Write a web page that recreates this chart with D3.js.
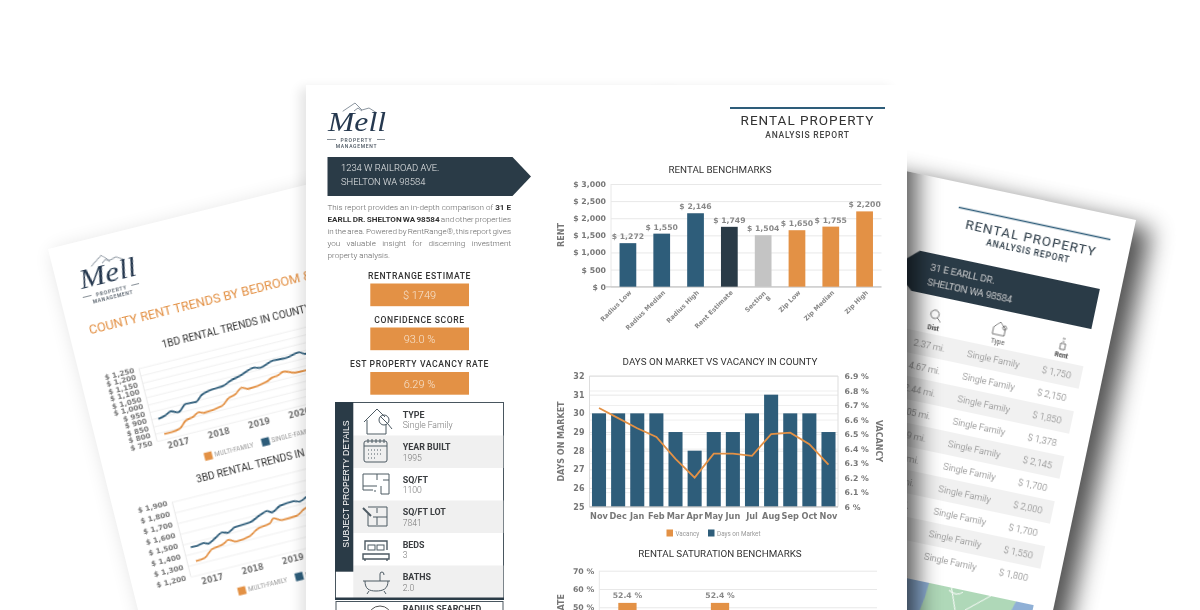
<!DOCTYPE html>
<html><head><meta charset="utf-8">
<script src="https://cdn.jsdelivr.net/npm/d3@7"></script>
<style>
html,body{margin:0;padding:0;background:#fff;overflow:hidden}
svg{display:block}
text{font-family:Roboto,sans-serif}
.tk text{font-family:"DejaVu Sans",sans-serif;font-weight:700;fill:#777}
.tk line{stroke:#e8e8e8}
.tk path{display:none}
</style></head><body>
<svg id="c" width="1200" height="610" viewBox="0 0 1200 610"></svg>
<script>
// ---- data ----
const benchCategories=["Radius Low","Radius Median","Radius High","Rent Estimate","Section 8","Zip Low","Zip Median","Zip High"];
const benchValues=[1272,1550,2146,1749,1504,1650,1755,2200];
const benchKinds=["radius","radius","radius","estimate","section","zip","zip","zip"];
const months=["Nov","Dec","Jan","Feb","Mar","Apr","May","Jun","Jul","Aug","Sep","Oct","Nov "];
const daysOnMarket=[30,30,30,30,29,28,29,29,30,31,30,30,29];
const vacancy=[6.68,6.61,6.54,6.48,6.33,6.2,6.365,6.365,6.35,6.5,6.51,6.43,6.29];
const saturationSlots=["a","b","c","d","e","f"];
const saturationValues=[52.4,null,52.4,null,null,null];
const trend1Single=[[2016.68,891],[2016.86,903],[2017.01,920],[2017.19,902],[2017.41,944],[2017.66,940],[2017.83,976],[2018.14,996],[2018.38,1000],[2018.58,1021],[2018.85,1039],[2019.2,1069],[2019.36,1057],[2019.71,1084],[2020,1079],[2020.35,1096],[2020.49,1075],[2020.8,1080]];
const trend1Multi=[[2016.73,785],[2016.91,785],[2017.13,795],[2017.31,836],[2017.51,849],[2017.66,869],[2017.78,857],[2018.24,872],[2018.44,912],[2018.62,926],[2018.81,959],[2018.96,940],[2019.43,957],[2019.58,975],[2019.72,979],[2019.88,995],[2020.15,970],[2020.39,967],[2020.8,975]];
const trend3Single=[[2016.69,1459],[2016.84,1458],[2017.01,1469],[2017.12,1452],[2017.31,1485],[2017.5,1522],[2017.64,1506],[2017.84,1540],[2018.22,1549],[2018.5,1591],[2018.68,1612],[2018.8,1588],[2019.02,1629],[2019.36,1640],[2019.51,1623],[2019.7,1650],[2020,1670]];
const trend3Multi=[[2016.73,1326],[2016.96,1336],[2017.17,1395],[2017.47,1417],[2017.61,1441],[2017.8,1410],[2018.14,1428],[2018.34,1472],[2018.68,1496],[2018.79,1532],[2018.98,1499],[2019.35,1504],[2019.59,1551],[2020,1570]];
const trend1Ticks=[750,800,850,900,950,1000,1050,1100,1150,1200,1250];
const trend3Ticks=[1200,1300,1400,1500,1600,1700,1800,1900];
const yearTicks=[2017,2018,2019,2020];
const addressCenter=["1234 W RAILROAD AVE.","SHELTON WA 98584"];
const addressRight=["31 E EARLL DR.","SHELTON WA 98584"];
const kpiLabels=["RENTRANGE ESTIMATE","CONFIDENCE SCORE","EST PROPERTY VACANCY RATE"];
const kpiValues=["$ 1749","93.0 %","6.29 %"];
const detailLabels=["TYPE","YEAR BUILT","SQ/FT","SQ/FT LOT","BEDS","BATHS"];
const detailValues=["Single Family","1995","1100","7841","3","2.0"];
const compDist=["2.37 mi.","4.67 mi.","2.44 mi.","3.05 mi.","2.39 mi.","3.1 mi.","3.4 mi.","4.1 mi.","4.2 mi.","5.0 mi."];
const compRent=[1750,2150,1850,1378,2145,1700,2000,1700,1550,1800];

const BLUE="#2f5d7a",DARK="#2c3b46",ORANGE="#e39145",GRAY="#c4c4c4",TXT="#3c3f42",LIGHT="#8a8a8a";
const svg=d3.select("#c");
const defs=svg.append("defs");
[["b6",6],["b10",10],["b12",12],["soft",0.42]].forEach(([id,s])=>{
  defs.append("filter").attr("id",id).attr("x","-30%").attr("y","-30%").attr("width","160%").attr("height","160%")
   .append("feGaussianBlur").attr("stdDeviation",s);
});
function T(g,x,y,s,o={}){
  const t=g.append("text").attr("x",x).attr("y",y).text(s)
   .attr("font-size",o.size||10).attr("fill",o.fill||TXT).attr("text-anchor",o.anchor||"start")
   .attr("font-weight",o.weight||400);
  if(o.ls)t.attr("letter-spacing",o.ls);
  if(o.family)t.style("font-family",o.family);
  if(o.style)t.attr("font-style",o.style);
  return t;
}
function logo(g,x,y,k){
  const l=g.append("g").attr("transform",`translate(${x},${y}) scale(${k})`);
  l.append("path").attr("d","M15.7,8.3 L28,0 L35,7 L42,5 L50,10 M27,8 L31,5 L35,8").attr("fill","none").attr("stroke","#6d7a86").attr("stroke-width",.8);
  T(l,1,27.5,"Mell",{size:28,fill:"#25394f",style:"italic",family:"'Liberation Serif',serif"}).attr("textLength",58).attr("lengthAdjust","spacingAndGlyphs");
  l.append("path").attr("d","M0,36.5 H9 M50,36.5 H58").attr("stroke","#55606a").attr("stroke-width",.7);
  T(l,29.5,39,"PROPERTY",{size:5,anchor:"middle",ls:.9,fill:"#4a5560",weight:500});
  T(l,29.5,45,"MANAGEMENT",{size:5,anchor:"middle",ls:.7,fill:"#4a5560",weight:500});
}
function money(v){return "$ "+d3.format(",")(v);}

// ---- left page ----
const lp=svg.append("g").attr("transform","translate(48,249) rotate(-14)");
lp.append("rect").attr("x",3).attr("y",4).attr("width",640).attr("height",820).attr("fill","#000").attr("opacity",.13).attr("filter","url(#b10)");
lp.append("rect").attr("width",640).attr("height",820).attr("fill","#fff");
const lc=lp.append("g").attr("filter","url(#soft)");
logo(lc,22,19,1);
T(lc,20.2,92.7,"COUNTY RENT TRENDS BY BEDROOM & TYPE",{size:12.8,fill:ORANGE});
T(lc,87.4,123.5,"1BD RENTAL TRENDS IN COUNTY",{size:10.2,fill:"#333"});
T(lc,88.3,263,"3BD RENTAL TRENDS IN COUNTY",{size:10.2,fill:"#333"});
function trend(g,y0,y1,ticks,single,multi,legY){
  const xs=d3.scaleLinear().domain([2016.52,2024]).range([59.3,369.7]);
  const ys=d3.scaleLinear().domain(d3.extent(ticks)).range([y0,y1]);
  const ay=g.append("g").attr("class","tk").attr("transform","translate(59.3,0)")
    .call(d3.axisLeft(ys).tickValues(ticks).tickFormat(money).tickSize(-320).tickPadding(5));
  ay.selectAll("text").style("font-size","7.2px");
  ay.selectAll("line").style("stroke","#f0f0f0");
  g.append("line").attr("x1",59.3).attr("x2",59.3).attr("y1",y1).attr("y2",y0).attr("stroke","#e8e8e8");
  const ax=g.append("g").attr("class","tk").attr("transform",`translate(0,${y0})`)
    .call(d3.axisBottom(xs).tickValues(yearTicks).tickFormat(d3.format("d")).tickSize(0).tickPadding(5));
  ax.selectAll("text").style("font-size","8px");
  const ln=d3.line().x(d=>xs(d[0])).y(d=>ys(d[1])).curve(d3.curveMonotoneX);
  g.append("path").attr("d",ln(multi)).attr("fill","none").attr("stroke",ORANGE).attr("stroke-width",1.8);
  g.append("path").attr("d",ln(single)).attr("fill","none").attr("stroke",BLUE).attr("stroke-width",1.8);
  g.append("rect").attr("x",101.5).attr("y",legY-4).attr("width",8).attr("height",8).attr("fill",ORANGE);
  T(g,112,legY+2.5,"MULTI-FAMILY",{size:6.3,fill:"#999"});
  g.append("rect").attr("x",160.5).attr("y",legY-4).attr("width",8).attr("height",8).attr("fill",BLUE);
  T(g,170.5,legY+2.5,"SINGLE-FAMILY",{size:6.3,fill:"#999"});
}
trend(lc,212.8,137.7,trend1Ticks,trend1Single,trend1Multi,239.7);
trend(lc,352.5,275.4,trend3Ticks,trend3Single,trend3Multi,378.6);

// ---- right page ----
const RP="translate(1136,220) rotate(12)";
const rpShadow=svg.append("g").attr("transform",RP);
rpShadow.append("rect").attr("x",-480).attr("y",6).attr("width",497).attr("height",620).attr("fill","#000").attr("opacity",.68).attr("filter","url(#b12)");
const rp=svg.append("g").attr("transform",RP);
rp.append("rect").attr("x",-480).attr("y",0).attr("width",480).attr("height",640).attr("fill","#fff");
const rc=rp.append("g").attr("filter","url(#soft)");
rc.append("line").attr("x1",-176).attr("x2",-21).attr("y1",24.5).attr("y2",24.5).attr("stroke",BLUE).attr("stroke-width",1.7);
T(rc,-99,43.5,"RENTAL PROPERTY",{size:13.5,anchor:"middle",ls:1,fill:"#2c3b46"});
T(rc,-99,55.5,"ANALYSIS REPORT",{size:8.6,anchor:"middle",ls:.8,weight:500,fill:"#2c3b46"});
rc.append("path").attr("d","M-21,75 V116 H-205 L-228,96 L-205,75 Z").attr("fill",DARK);
addressRight.forEach((s,i)=>T(rc,-191,92+i*15,s,{size:9.6,fill:"#e9ecee",weight:300}));
const ic=rc.append("g").attr("fill","none").attr("stroke","#555").attr("stroke-width",.8);
ic.append("circle").attr("cx",-177).attr("cy",134).attr("r",4.2);
ic.append("path").attr("d","M-174,137 L-170,141");
ic.append("path").attr("d","M-117,141 V134 L-111,128 L-105,134 V141 Z M-106,131 a2,2 0 1 0 .1,0");
ic.append("path").attr("d","M-48,136 h5 v6 h-5 Z M-46.5,134 h2 M-47,131 h3");
T(rc,-176,150,"Dist",{size:6.5,weight:700,anchor:"middle",fill:"#444"});
T(rc,-110,150,"Type",{size:6.5,anchor:"middle",fill:"#555"});
T(rc,-45,150,"Rent",{size:6.5,weight:700,anchor:"middle",fill:"#444"});
const rowY=d3.scaleBand().domain(d3.range(compRent.length)).range([154,384]);
rc.selectAll("rect.row").data(compRent.filter((d,i)=>i%2===0)).enter().append("rect").attr("class","row")
  .attr("x",-300).attr("width",279).attr("y",(d,i)=>rowY(i*2)).attr("height",rowY.bandwidth()).attr("fill","#f1f1f1");
compRent.forEach((r,i)=>{
  const y=rowY(i)+15;
  T(rc,-176,y,compDist[i],{size:9.2,anchor:"middle",fill:"#777",weight:300});
  T(rc,-110.5,y,"Single Family",{size:9.2,anchor:"middle",fill:"#777",weight:300});
  T(rc,-46,y,money(r),{size:9.2,anchor:"middle",fill:"#777",weight:300});
});
const mp=rc.append("g");
mp.append("rect").attr("x",-240).attr("y",398).attr("width",220).attr("height",170).attr("fill","#afd8b8");
mp.append("path").attr("d","M-240,398 H-127 L-128,412 L-131,430 L-135,470 H-240 Z M-42,412 L-38,398 H-20 V420 L-44,425 Z").attr("fill","#8fb0d6");
mp.append("path").attr("d","M-104,398 L-96,419 M-86,417 L-64,398 M-106,401 Q-97,406 -92,400").attr("stroke","#fff").attr("fill","none").attr("stroke-width",1);
mp.append("path").attr("d","M-156,399 L-150,396").attr("stroke",ORANGE).attr("stroke-width",1.5);
const clip=defs.append("clipPath").attr("id","rclip");
clip.append("rect").attr("x",-480).attr("y",0).attr("width",480).attr("height",640).attr("transform",RP);
svg.append("g").attr("clip-path","url(#rclip)").append("rect").attr("x",300).attr("y",60).attr("width",617).attr("height",620).attr("fill","#000").attr("opacity",.66).attr("filter","url(#b12)");

// ---- centre page ----
svg.append("rect").attr("x",300).attr("y",88).attr("width",590).attr("height",600).attr("fill","#000").attr("opacity",.1).attr("filter","url(#b6)");
svg.append("rect").attr("x",306).attr("y",85).attr("width",601).attr("height",540).attr("fill","#fff");
const cp=svg.append("g").attr("filter","url(#soft)");
logo(cp,327,103,1);
cp.append("path").attr("d","M327.5,157 H512.5 L531,176.5 L512.5,196 H327.5 Z").attr("fill",DARK);
addressCenter.forEach((s,i)=>T(cp,341,171+i*14,s,{size:9.4,fill:"#e4e8ea",weight:300}));
const para=[
 [["This report provides an in-depth comparison of ",0],["31 E",1]],
 [["EARLL DR. SHELTON WA 98584",1],[" and other properties",0]],
 [["in the area. Powered by RentRange®, this report gives",0]],
 [["you valuable insight for discerning investment",0]],
 [["property analysis.",0]]];
para.forEach((ln,i)=>{
  const t=cp.append("text").attr("x",327.5).attr("y",210+i*12).attr("font-size",8.1).attr("fill","#555");
  ln.forEach(([s,b])=>t.append("tspan").text(s).attr("font-weight",b?700:300).attr("fill",b?"#333":"#666"));
  if(i<4){
    const w=t.node().getComputedTextLength();
    const gaps=ln.map(d=>d[0]).join("").split(" ").length-1;
    t.attr("word-spacing",(183.5-w)/gaps);
  }
});
const kpiY=[[279,283.5],[323,327.5],[367,372]];
kpiLabels.forEach((s,i)=>{
  T(cp,419.5,kpiY[i][0],s,{size:8.6,anchor:"middle",weight:500,ls:.6,fill:"#333"});
  cp.append("rect").attr("x",370.3).attr("y",kpiY[i][1]).attr("width",98.7).attr("height",22.7).attr("fill",ORANGE);
  T(cp,419.5,kpiY[i][1]+15.5,kpiValues[i],{size:11,anchor:"middle",fill:"#f6e3cf",weight:300});
});
const tb=cp.append("g");
const rowH=d3.scaleBand().domain(d3.range(6)).range([403,598]);
tb.append("rect").attr("x",335.5).attr("y",402.5).attr("width",168).attr("height",196).attr("fill","#fff").attr("stroke","#4a565f").attr("stroke-width",1);
detailLabels.forEach((s,i)=>{
  if(i%2)tb.append("rect").attr("x",353.3).attr("y",rowH(i)).attr("width",150).attr("height",rowH.bandwidth()).attr("fill","#f0f0f0");
  T(tb,402.7,rowH(i)+14.6,s,{size:8.9,weight:700,fill:"#3a3d40"});
  T(tb,402.7,rowH(i)+25.4,detailValues[i],{size:8.6,fill:"#777",weight:300});
});
tb.append("rect").attr("x",335).attr("y",402).attr("width",18.3).attr("height",169.7).attr("fill",DARK);
tb.append("rect").attr("x",335).attr("y",597.5).attr("width",169).attr("height",2.5).attr("fill",DARK);
T(tb,0,0,"SUBJECT PROPERTY DETAILS",{size:8.7,fill:"#fff",anchor:"middle",family:"'Liberation Sans',sans-serif"}).attr("transform","translate(348.5,484) rotate(-90)");
tb.append("rect").attr("x",336).attr("y",601.5).attr("width",167).attr("height",30).attr("fill","#fff").attr("stroke","#4a565f");
T(tb,402.7,612,"RADIUS SEARCHED",{size:8.9,weight:700,fill:"#3a3d40"});
tb.append("path").attr("d","M368,618 a12,12 0 0 1 24,0").attr("fill","none").attr("stroke","#555");
const ig=tb.append("g").attr("fill","none").attr("stroke","#4d5a63").attr("stroke-width",1);
const at=(x,y)=>ig.append("g").attr("transform",`translate(${x},${y})`);
at(364,408).call(g=>{g.append("path").attr("d","M0,14 L13,1 L21,9 M3,12 V26 H22 V16");g.append("circle").attr("cx",20).attr("cy",12).attr("r",5);g.append("path").attr("d","M24,16 L28,21 M16,8 L24,16")});
at(364,441).call(g=>{g.append("rect").attr("width",23).attr("height",21).attr("rx",2);g.append("path").attr("d","M0,5 H23 M4,-2 V2 M8,-2 V2 M12,-2 V2 M16,-2 V2 M20,-2 V2");g.append("path").attr("d","M4,9 h15 M4,13 h15 M4,17 h8").attr("stroke-dasharray","1 2")});
at(363,474).call(g=>g.append("path").attr("d","M0,0 H26 V20 H18 V12 M14,0 V6 M14,12 H0 M0,12 V16 H10 M20,6 H26 M12,16 V18 M0,12 V0"));
at(363,507).call(g=>{g.append("path").attr("d","M5,0 H24 V19 H5 V7 M14,1 V6 M14,10 V18 M10,10 H24");g.append("path").attr("d","M0,1 L8,9").attr("stroke-width",2)});
at(363,540).call(g=>{g.append("path").attr("d","M2,10 V1 H24 V10 M0,14 H26 V19 H0 Z M2,19 V21 M24,19 V21").attr("stroke-width",1.4);g.append("rect").attr("x",5).attr("y",5).attr("width",7).attr("height",5);g.append("rect").attr("x",14).attr("y",5).attr("width",7).attr("height",5)});
at(363,573).call(g=>g.append("path").attr("d","M0,8 H27 M2,8 C2,16 6,18 13,18 C20,18 25,16 25,8 M6,18 L4,21 M21,18 L23,21 M17,8 V1 Q17,-1 19,-1 Q21,-1 21,2"));
cp.append("line").attr("x1",730).attr("x2",885).attr("y1",108).attr("y2",108).attr("stroke",BLUE).attr("stroke-width",2);
T(cp,807.5,125,"RENTAL PROPERTY",{size:13.5,anchor:"middle",ls:1,fill:"#333"});
T(cp,807.5,137.5,"ANALYSIS REPORT",{size:8.5,anchor:"middle",ls:.8,weight:500,fill:"#444"});
const DV="'DejaVu Sans',sans-serif";
// --- chart 1 ---
T(cp,720,172.5,"RENTAL BENCHMARKS",{size:9.8,anchor:"middle",fill:"#333"});
{
 const x=d3.scaleBand().domain(benchCategories).range([611,881.5]).paddingInner(.505).paddingOuter(.2525);
 const y=d3.scaleLinear().domain([0,3000]).range([286.7,184]);
 const ay=cp.append("g").attr("class","tk").attr("transform","translate(611,0)").call(d3.axisLeft(y).ticks(6).tickFormat(d=>"$ "+d3.format(",")(d)).tickSize(-270.5).tickPadding(5));
 ay.selectAll("text").style("font-size","7.8px");
 cp.append("line").attr("x1",611).attr("x2",611).attr("y1",184).attr("y2",286.7).attr("stroke","#e8e8e8");
 cp.append("line").attr("x1",606).attr("x2",881.5).attr("y1",286.9).attr("y2",286.9).attr("stroke","#bbb").attr("stroke-width",1);
 const color={radius:BLUE,estimate:DARK,section:GRAY,zip:ORANGE};
 cp.selectAll("rect.b").data(benchValues).enter().append("rect").attr("x",(d,i)=>x(benchCategories[i])).attr("width",x.bandwidth()).attr("y",d=>y(d)).attr("height",d=>y(0)-y(d)).attr("fill",(d,i)=>color[benchKinds[i]]);
 benchValues.forEach((v,i)=>{
  T(cp,x(benchCategories[i])+x.bandwidth()/2,y(v)-4,money(v),{size:7.7,anchor:"middle",weight:700,fill:"#888",family:DV});
  const cx=x(benchCategories[i])+x.bandwidth()/2+4,lab=benchCategories[i];
  const g=cp.append("g").attr("transform",`translate(${cx},293) rotate(-45)`);
  const o={size:6.4,anchor:"end",weight:700,fill:"#888",family:DV};
  if(lab==="Section 8"){T(g,-1,0,"Section",o);T(g,-1,7,"8",o);}
  else T(g,0,0,lab,o);
 });
 T(cp,0,0,"RENT",{size:8,weight:700,anchor:"middle",fill:"#777",family:DV}).attr("transform","translate(564,235) rotate(-90)");
}
// --- chart 2 ---
T(cp,720,365,"DAYS ON MARKET VS VACANCY IN COUNTY",{size:9.8,anchor:"middle",fill:"#333"});
{
 const x=d3.scaleBand().domain(months).range([589.5,838]).paddingInner(.265).paddingOuter(.13);
 const y=d3.scaleLinear().domain([25,32]).range([506.7,376]);
 const y2=d3.scaleLinear().domain([6,6.9]).range([506.7,376]);
 const ay=cp.append("g").attr("class","tk").attr("transform","translate(589.5,0)").call(d3.axisLeft(y).ticks(7).tickFormat(d3.format("d")).tickSize(-248.5).tickPadding(5));
 ay.selectAll("text").style("font-size","8px");
 const ar=cp.append("g").attr("class","tk").attr("transform","translate(838,0)").call(d3.axisRight(y2).tickValues(d3.range(0,10).map(d=>6+d/10)).tickFormat(d=>(d===6?"6":d3.format(".1f")(d))+" %").tickSize(-248.5).tickPadding(12));
 ar.selectAll("text").style("font-size","7.8px").attr("text-anchor","start").attr("x",6.5);
 ar.selectAll("line").style("stroke","#efefef");
 cp.append("path").attr("d","M589.5,376 V506.7 M838,376 V506.7 M589.5,376 H838").attr("fill","none").attr("stroke","#ddd");
 cp.selectAll("rect.d").data(daysOnMarket).enter().append("rect").attr("x",(d,i)=>x(months[i])).attr("width",x.bandwidth()).attr("y",d=>y(d)).attr("height",d=>y(25)-y(d)).attr("fill",BLUE);
 cp.append("line").attr("x1",589.5).attr("x2",838).attr("y1",506.9).attr("y2",506.9).attr("stroke","#bbb");
 const ln=d3.line().x((d,i)=>x(months[i])+x.bandwidth()/2).y(d=>y2(d));
 cp.append("path").attr("d",ln(vacancy)).attr("fill","none").attr("stroke",ORANGE).attr("stroke-width",1.8);
 months.forEach(m=>T(cp,x(m)+x.bandwidth()/2,519,m.trim(),{size:8.2,anchor:"middle",weight:700,fill:"#777",family:DV}));
 T(cp,0,0,"DAYS ON MARKET",{size:8,weight:700,anchor:"middle",fill:"#777",family:DV}).attr("transform","translate(564,441.5) rotate(-90)");
 T(cp,0,0,"VACANCY",{size:8,weight:700,anchor:"middle",fill:"#777",family:DV}).attr("transform","translate(876,441) rotate(90)");
 cp.append("rect").attr("x",666.5).attr("y",529.5).attr("width",6.5).attr("height",7).attr("fill",ORANGE);
 T(cp,675.5,535.5,"Vacancy",{size:6.3,fill:"#999"});
 cp.append("rect").attr("x",708).attr("y",529.5).attr("width",6.5).attr("height",7).attr("fill",BLUE);
 T(cp,717,535.5,"Days on Market",{size:6.3,fill:"#999"});
}
// --- chart 3 ---
T(cp,720,557,"RENTAL SATURATION BENCHMARKS",{size:9.8,anchor:"middle",fill:"#333"});
{
 const x=d3.scaleBand().domain(saturationSlots).range([604.3,882]).paddingInner(.605).paddingOuter(.3025);
 const y=d3.scaleLinear().domain([0,70]).range([698.7,570.7]);
 const ay=cp.append("g").attr("class","tk").attr("transform","translate(599.3,0)").call(d3.axisLeft(y).tickValues([50,60,70]).tickFormat(d=>d+" %").tickSize(-277.7).tickPadding(5));
 ay.selectAll("text").style("font-size","7.8px");
 cp.append("line").attr("x1",599.3).attr("x2",599.3).attr("y1",570.7).attr("y2",620).attr("stroke","#e8e8e8");
 saturationValues.forEach((v,i)=>{
  if(v==null)return;
  const s=saturationSlots[i];
  cp.append("rect").attr("x",x(s)).attr("width",x.bandwidth()).attr("y",y(v)).attr("height",y(0)-y(v)).attr("fill",ORANGE);
  T(cp,x(s)+x.bandwidth()/2,y(v)-4.5,v+" %",{size:7.7,anchor:"middle",fill:"#888",weight:700,family:DV});
 });
 T(cp,0,0,"RATE",{size:8,weight:700,anchor:"end",fill:"#777",family:DV}).attr("transform","translate(564,594) rotate(-90)");
}
</script>
</body></html>
